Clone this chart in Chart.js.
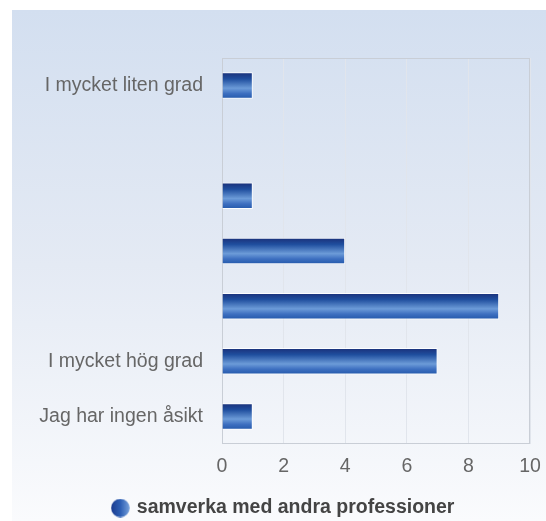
<!DOCTYPE html>
<html>
<head>
<meta charset="utf-8">
<script src="https://cdn.jsdelivr.net/npm/chart.js@4/dist/chart.umd.min.js"></script>
<style>
  html, body { margin: 0; padding: 0; width: 546px; height: 521px; overflow: hidden; background: #ffffff; }
  #bg { position: absolute; left: 12px; top: 10px; width: 534px; height: 511px;
        background: linear-gradient(to bottom, #d3dff0 0%, #e4eaf4 50%, #fafbfd 100%); }
  #c { position: absolute; left: 0; top: 0; }
</style>
</head>
<body>
<div id="bg"></div>
<canvas id="c" width="546" height="530" style="width:546px;height:530px"></canvas>
<script>
const categories = ["I mycket liten grad", "", "", "", "", "I mycket hög grad", "Jag har ingen åsikt"];
const seriesName = "samverka med andra professioner";
const values = [1, 0, 1, 4, 9, 7, 1];
const xTicks = [0, 2, 4, 6, 8, 10];

const CAT_PCT = 1.0;
const BAR_PCT = 0.48;
const FONT = "'Liberation Sans', Arial, sans-serif";

function barGradient(ctx) {
  const chart = ctx.chart;
  const y = chart.scales && chart.scales.y;
  if (!y || ctx.type !== 'data' || y.height === undefined) return '#2a5aad';
  const c = y.getPixelForValue(ctx.dataIndex);
  const step = Math.abs(y.getPixelForValue(1) - y.getPixelForValue(0));
  const h = step * CAT_PCT * BAR_PCT / 2;
  const g = chart.ctx.createLinearGradient(0, c - h, 0, c + h);
  g.addColorStop(0, '#1a2f78');
  g.addColorStop(0.25, '#1f4e9e');
  g.addColorStop(0.6, '#6c9bd8');
  g.addColorStop(0.8, '#3d6fc0');
  g.addColorStop(1, '#2358aa');
  return g;
}

// legend marker: gradient-filled circle
const marker = document.createElement('canvas');
marker.width = 19; marker.height = 19;
(function () {
  const m = marker.getContext('2d');
  const g = m.createLinearGradient(0, 0, 19, 0);
  g.addColorStop(0, '#1a3a8e');
  g.addColorStop(0.5, '#2d5fb4');
  g.addColorStop(1, '#78a2dc');
  m.fillStyle = g;
  m.beginPath();
  m.arc(9.5, 9.5, 9.3, 0, Math.PI * 2);
  m.fill();
})();

const framePlugin = {
  id: 'frame',
  beforeDatasetsDraw(chart) {
    const a = chart.chartArea, c = chart.ctx;
    c.save();
    c.strokeStyle = '#c9ced6';
    c.lineWidth = 1;
    c.strokeRect(Math.round(a.left) + 0.5, Math.round(a.top) + 0.5,
                 Math.round(a.right - a.left) - 1, Math.round(a.bottom - a.top) - 1);
    c.restore();
  }
};

const chart = new Chart(document.getElementById('c'), {
  type: 'bar',
  data: {
    labels: categories,
    datasets: [{
      label: seriesName,
      data: values,
      backgroundColor: barGradient,
      borderColor: 'rgba(255,255,255,0.9)',
      borderWidth: (ctx) => (ctx.raw === 0 ? 0 : 1),
      borderSkipped: 'start',
      categoryPercentage: CAT_PCT,
      barPercentage: BAR_PCT
    }]
  },
  options: {
    indexAxis: 'y',
    responsive: false,
    animation: false,
    events: [],
    layout: { padding: { top: 58, right: 16, left: 38, bottom: 2.25 } },
    scales: {
      x: {
        min: 0, max: 10,
        afterBuildTicks(scale) { scale.ticks = xTicks.map(v => ({ value: v })); },
        afterFit(scale) { scale.height = 44.25; scale.paddingLeft = 0; scale.paddingRight = 0; },
        grid: { color: '#e1e5ec', drawTicks: false },
        border: { display: false },
        ticks: { padding: 11, color: '#666666', font: { family: FONT, size: 19.5 } }
      },
      y: {
        afterFit(scale) { scale.width = 184; scale.paddingTop = 0; scale.paddingBottom = 0; },
        grid: { display: false, drawTicks: false },
        border: { display: false },
        ticks: { padding: 19, color: '#666666', font: { family: FONT, size: 19.5 }, autoSkip: false }
      }
    },
    plugins: {
      tooltip: { enabled: false },
      legend: {
        position: 'bottom',
        labels: {
          usePointStyle: true,
          boxWidth: 13.5,
          boxHeight: 13.5,
          padding: 10,
          color: '#444444',
          font: { family: FONT, size: 19.5, weight: 'bold' },
          generateLabels(ch) {
            return ch.data.datasets.map((ds, i) => ({
              text: ds.label,
              fillStyle: '#2d5fb4',
              strokeStyle: '#2d5fb4',
              lineWidth: 0,
              pointStyle: marker,
              datasetIndex: i,
              fontColor: '#444444'
            }));
          }
        }
      }
    }
  },
  plugins: [framePlugin]
});
</script>
</body>
</html>
